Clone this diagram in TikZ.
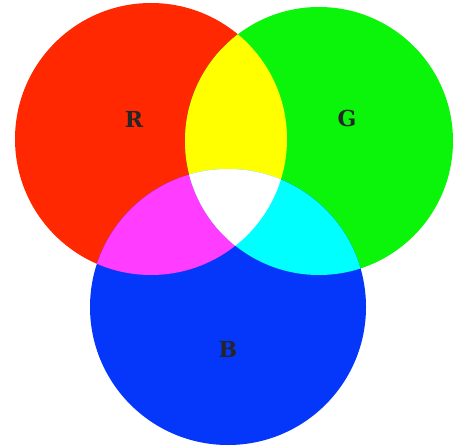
\documentclass[tikz,border=0pt]{standalone}
\usepackage{fontspec}
\newfontfamily\labelfont{DejaVu Serif}
\definecolor{cR}{RGB}{255,40,0}
\definecolor{cG}{RGB}{10,245,10}
\definecolor{cB}{RGB}{5,55,250}
\definecolor{cY}{RGB}{255,255,0}
\definecolor{cM}{RGB}{255,60,255}
\definecolor{cC}{RGB}{0,255,255}
\tikzset{lbl/.style={font=\labelfont\bfseries\fontsize{22}{22}\selectfont, text=black!85, inner sep=0pt}}
\begin{document}
\begin{tikzpicture}[x=1pt,y=-1pt]
\useasboundingbox (0,0) rectangle (457,446);
\fill[white] (0,0) rectangle (457,446);
\def\rR{(151,139) circle[radius=136]}
\def\rG{(319,141) circle[radius=134]}
\def\rB{(228,307) circle[radius=138]}
\fill[cR] \rR;
\fill[cG] \rG;
\fill[cB] \rB;
\begin{scope}
\clip \rR;
\fill[cY] \rG;
\fill[cM] \rB;
\clip \rG;
\fill[white] \rB;
\end{scope}
\begin{scope}
\clip \rG;
\clip \rB;
\fill[cC] (0,0) rectangle (457,446);
\clip \rR;
\fill[white] (0,0) rectangle (457,446);
\end{scope}
\node[lbl] (R) at (134,119) {R};
\node[lbl] (G) at (347,118) {G};
\node[lbl] (B) at (228,349) {B};
\end{tikzpicture}
\end{document}
